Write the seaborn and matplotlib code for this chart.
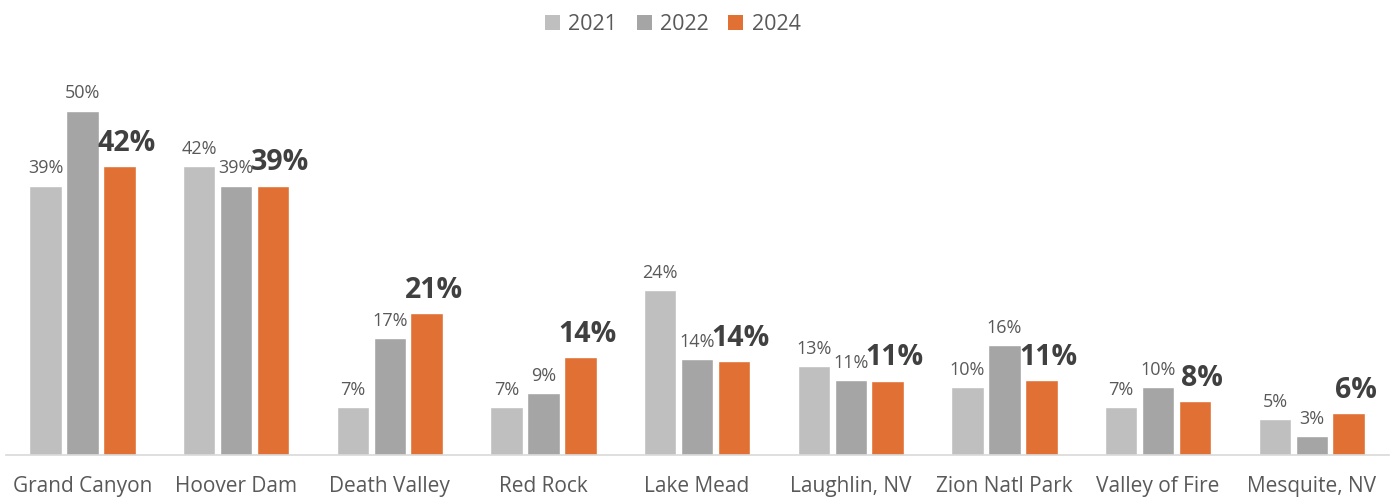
import matplotlib
matplotlib.use("Agg")
import matplotlib.pyplot as plt
from matplotlib.patches import Patch
import seaborn as sns
import pandas as pd

categories = ["Grand Canyon", "Hoover Dam", "Death Valley", "Red Rock", "Lake Mead",
              "Laughlin, NV", "Zion Natl Park", "Valley of Fire", "Mesquite, NV"]
years = ["2021", "2022", "2024"]
v2021 = [39.1, 42.0, 7.0, 7.0, 24.0, 12.9, 9.9, 7.0, 5.2]
v2022 = [50.0, 39.1, 17.0, 9.0, 13.95, 10.9, 16.0, 9.9, 2.8]
v2024 = [42.0, 39.1, 20.6, 14.2, 13.6, 10.8, 10.9, 7.8, 6.1]
colors = ["#BFBFBF", "#A5A5A5", "#E07033"]

df = pd.DataFrame({
    "site": categories * 3,
    "year": [y for y in years for _ in categories],
    "pct": v2021 + v2022 + v2024,
})

sns.set_theme(style="white")
plt.rcParams["font.family"] = ["Open Sans", "DejaVu Sans"]

fig = plt.figure(figsize=(13.9, 4.98), dpi=100)
ax = fig.add_axes([0.004, 0.086, 0.995, 0.794])
sns.barplot(data=df, x="site", y="pct", hue="year", order=categories, hue_order=years,
            palette=colors, width=0.72, gap=0.12, saturation=1, legend=False, ax=ax)

ax.set_xlim(-0.5, len(categories) - 0.5)
ax.set_ylim(0, 57.4)
ax.set_xlabel("")
ax.set_ylabel("")
ax.set_yticks([])
for s in ["top", "right", "left"]:
    ax.spines[s].set_visible(False)
ax.spines["bottom"].set_color("#D9D9D9")
ax.spines["bottom"].set_linewidth(1.2)
ax.tick_params(axis="x", length=0, pad=15, labelsize=15, labelcolor="#595959")

for i, cont in enumerate(ax.containers):
    if i < 2:
        ax.bar_label(cont, fmt="%.0f%%", padding=6, fontsize=13, color="#595959")
    else:
        texts = ax.bar_label(cont, fmt="%.0f%%", padding=6, fontsize=20.5,
                             fontweight="bold", color="#404040")
        for t in texts:
            t.xyann = (5, t.xyann[1])

handles = [Patch(facecolor=c, edgecolor="none") for c in colors]
fig.legend(handles, years, loc="upper center", bbox_to_anchor=(0.484, 1.01), ncol=3,
           frameon=False, fontsize=15.5, labelcolor="#595959", handlelength=0.7,
           handleheight=0.7, handletextpad=0.4, columnspacing=0.9)

fig.savefig("out.png", dpi=100)
